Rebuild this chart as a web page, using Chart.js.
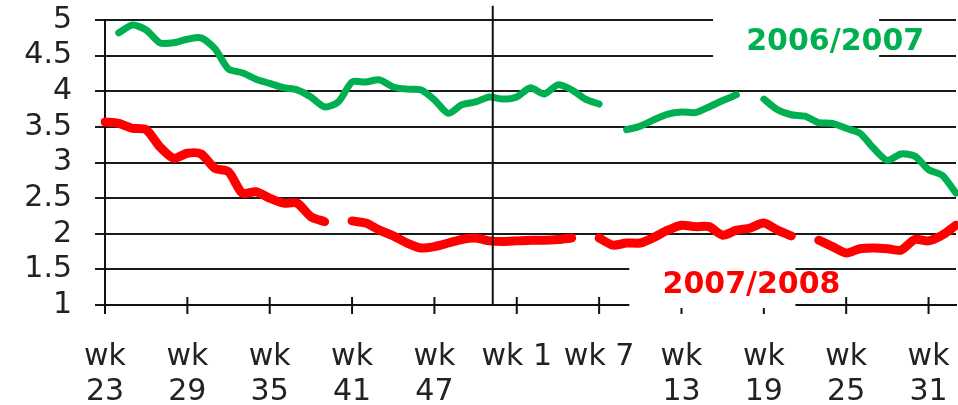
<!DOCTYPE html>
<html>
<head>
<meta charset="utf-8">
<script src="https://cdn.jsdelivr.net/npm/chart.js@4"></script>
<style>
  html, body { margin: 0; padding: 0; background: #fff; }
  #wrap { width: 958px; height: 405px; }
</style>
</head>
<body>
<div id="wrap"><canvas id="lineChart"></canvas></div>
<script>
// weeks from wk 23 through the new year to wk 33
var weekLabels = ['23','24','25','26','27','28','29','30','31','32','33','34','35','36','37',
    '38','39','40','41','42','43','44','45','46','47','48','49','50','51','52',
    '1','2','3','4','5','6','7','8','9','10','11','12','13','14','15','16','17',
    '18','19','20','21','22','23','24','25','26','27','28','29','30','31','32','33'];

// weeks that get a label on the x axis
var tickWeeks = ['23','29','35','41','47','1','7','13','19','25','31'];
var singleLineWeeks = ['1','7'];

var season0607 = [null, 4.82, 4.93, 4.86, 4.68, 4.68, 4.73, 4.75, 4.6, 4.31, 4.26, 4.17, 4.11, 4.05, 4.02,
    3.92, 3.78, 3.85, 4.13, 4.13, 4.16, 4.06, 4.03, 4.02, 3.88, 3.69, 3.81, 3.85, 3.92, 3.89,
    3.92, 4.05, 3.96, 4.09, 4.02, 3.89, 3.82, null, 3.46, 3.51, 3.6, 3.68, 3.71, 3.7, 3.78,
    3.87, 3.95, null, 3.89, 3.74, 3.67, 3.65, 3.56, 3.55, 3.48, 3.41, 3.2, 3.03, 3.12, 3.09,
    2.9, 2.82, 2.57];

var season0708 = [3.57, 3.55, 3.48, 3.46, 3.22, 3.06, 3.13, 3.12, 2.92, 2.87, 2.57, 2.59, 2.5, 2.43, 2.43,
    2.24, 2.17, null, 2.18, 2.15, 2.05, 1.97, 1.87, 1.8, 1.82, 1.87, 1.92, 1.94, 1.9, 1.89,
    1.9, 1.91, 1.91, 1.92, 1.94, null, 1.94, 1.84, 1.87, 1.87, 1.95, 2.05, 2.12, 2.1, 2.1,
    1.98, 2.05, 2.08, 2.15, 2.05, 1.97, null, 1.91, 1.82, 1.73, 1.79, 1.8, 1.79, 1.77, 1.92,
    1.9, 1.98, 2.12];

var yTicks = [1, 1.5, 2, 2.5, 3, 3.5, 4, 4.5, 5];

var GREEN = '#00B050';
var RED = '#FF0000';

// series name labels and the white patches behind them (in data units)
var seriesLabels = [
    { text: '2006/2007', color: GREEN, x: 53.2, y: 4.69, box: { from: 44.3, to: 56.4, top: 5.1, bottom: 4.3 } },
    { text: '2007/2008', color: RED, x: 47.1, y: 1.28, box: { from: 38.2, to: 50.3, top: 1.66, bottom: 0.958 } }
];
var yearBreak = 28.25;

// keep the plot area where the layout puts it, no extra room for tick labels
function noScalePadding(scale) {
    scale.paddingTop = 0;
    scale.paddingBottom = 0;
    scale.paddingLeft = 0;
    scale.paddingRight = 0;
}

var overlayPlugin = {
    id: 'overlay',
    beforeDatasetsDraw: function (chart) {
        var ctx = chart.ctx;
        var x = chart.scales.x, y = chart.scales.y;
        var axisY = y.getPixelForValue(1);
        ctx.save();
        // tick marks crossing the x axis
        ctx.strokeStyle = '#111';
        ctx.lineWidth = 2;
        for (var i = 0; i < weekLabels.length; i += 6) {
            var px = x.getPixelForValue(i);
            ctx.beginPath();
            ctx.moveTo(px, axisY - 8);
            ctx.lineTo(px, axisY + 9);
            ctx.stroke();
        }
        // white patches behind the series names
        ctx.fillStyle = '#fff';
        seriesLabels.forEach(function (l) {
            var x0 = x.getPixelForValue(l.box.from), x1 = x.getPixelForValue(l.box.to);
            var y0 = y.getPixelForValue(l.box.top), y1 = y.getPixelForValue(l.box.bottom);
            ctx.fillRect(x0, y0, x1 - x0, y1 - y0);
        });
        ctx.restore();
    },
    afterDatasetsDraw: function (chart) {
        var ctx = chart.ctx;
        var x = chart.scales.x, y = chart.scales.y;
        ctx.save();
        // year boundary
        var bx = x.getPixelForValue(yearBreak);
        ctx.strokeStyle = '#111';
        ctx.lineWidth = 2;
        ctx.beginPath();
        ctx.moveTo(bx, y.getPixelForValue(5.2));
        ctx.lineTo(bx, y.getPixelForValue(1));
        ctx.stroke();
        // series names
        ctx.font = 'bold 30px "DejaVu Sans"';
        ctx.textAlign = 'center';
        ctx.textBaseline = 'middle';
        seriesLabels.forEach(function (l) {
            ctx.fillStyle = l.color;
            ctx.fillText(l.text, x.getPixelForValue(l.x), y.getPixelForValue(l.y));
        });
        ctx.restore();
    }
};

var ctx = document.getElementById('lineChart').getContext('2d');
var lineChart = new Chart(ctx, {
    type: 'line',
    data: {
        labels: weekLabels,
        datasets: [{
            label: '2006/2007',
            data: season0607,
            borderColor: GREEN,
            borderWidth: 7,
            pointRadius: 0,
            tension: 0.25,
            spanGaps: false,
            borderCapStyle: 'round',
            borderJoinStyle: 'round'
        }, {
            label: '2007/2008',
            data: season0708,
            borderColor: RED,
            borderWidth: 9,
            pointRadius: 0,
            tension: 0.25,
            spanGaps: false,
            borderCapStyle: 'round',
            borderJoinStyle: 'round'
        }]
    },
    options: {
        responsive: true,
        maintainAspectRatio: false,
        animation: false,
        layout: { padding: { top: 20, right: 2, bottom: 0, left: 0 } },
        plugins: {
            legend: { display: false },
            tooltip: { enabled: false }
        },
        scales: {
            x: {
                grid: { display: true, drawOnChartArea: false, drawTicks: false },
                border: { display: true, color: '#111', width: 2 },
                afterFit: function (scale) {
                    scale.height = 100;
                    noScalePadding(scale);
                },
                ticks: {
                    autoSkip: false,
                    maxRotation: 0,
                    padding: 35,
                    color: '#222',
                    font: { family: 'DejaVu Sans', size: 30, lineHeight: 1.17 },
                    callback: function (value, index) {
                        var w = weekLabels[index];
                        if (index % 6 !== 0 || tickWeeks.indexOf(w) < 0) return null;
                        if (singleLineWeeks.indexOf(w) >= 0) return 'wk ' + w;
                        return ['wk', w];
                    }
                }
            },
            y: {
                min: 1,
                max: 5,
                afterFit: function (scale) {
                    scale.width = 105;
                    noScalePadding(scale);
                },
                afterBuildTicks: function (scale) {
                    scale.ticks = yTicks.map(function (v) { return { value: v }; });
                },
                grid: { color: '#1a1a1a', lineWidth: 2, tickLength: 10 },
                border: { display: true, color: '#111', width: 2 },
                ticks: {
                    autoSkip: false,
                    padding: 23,
                    color: '#222',
                    font: { family: 'DejaVu Sans', size: 30 },
                    callback: function (value) { return String(value); }
                }
            }
        }
    },
    plugins: [overlayPlugin]
});
</script>
</body>
</html>
